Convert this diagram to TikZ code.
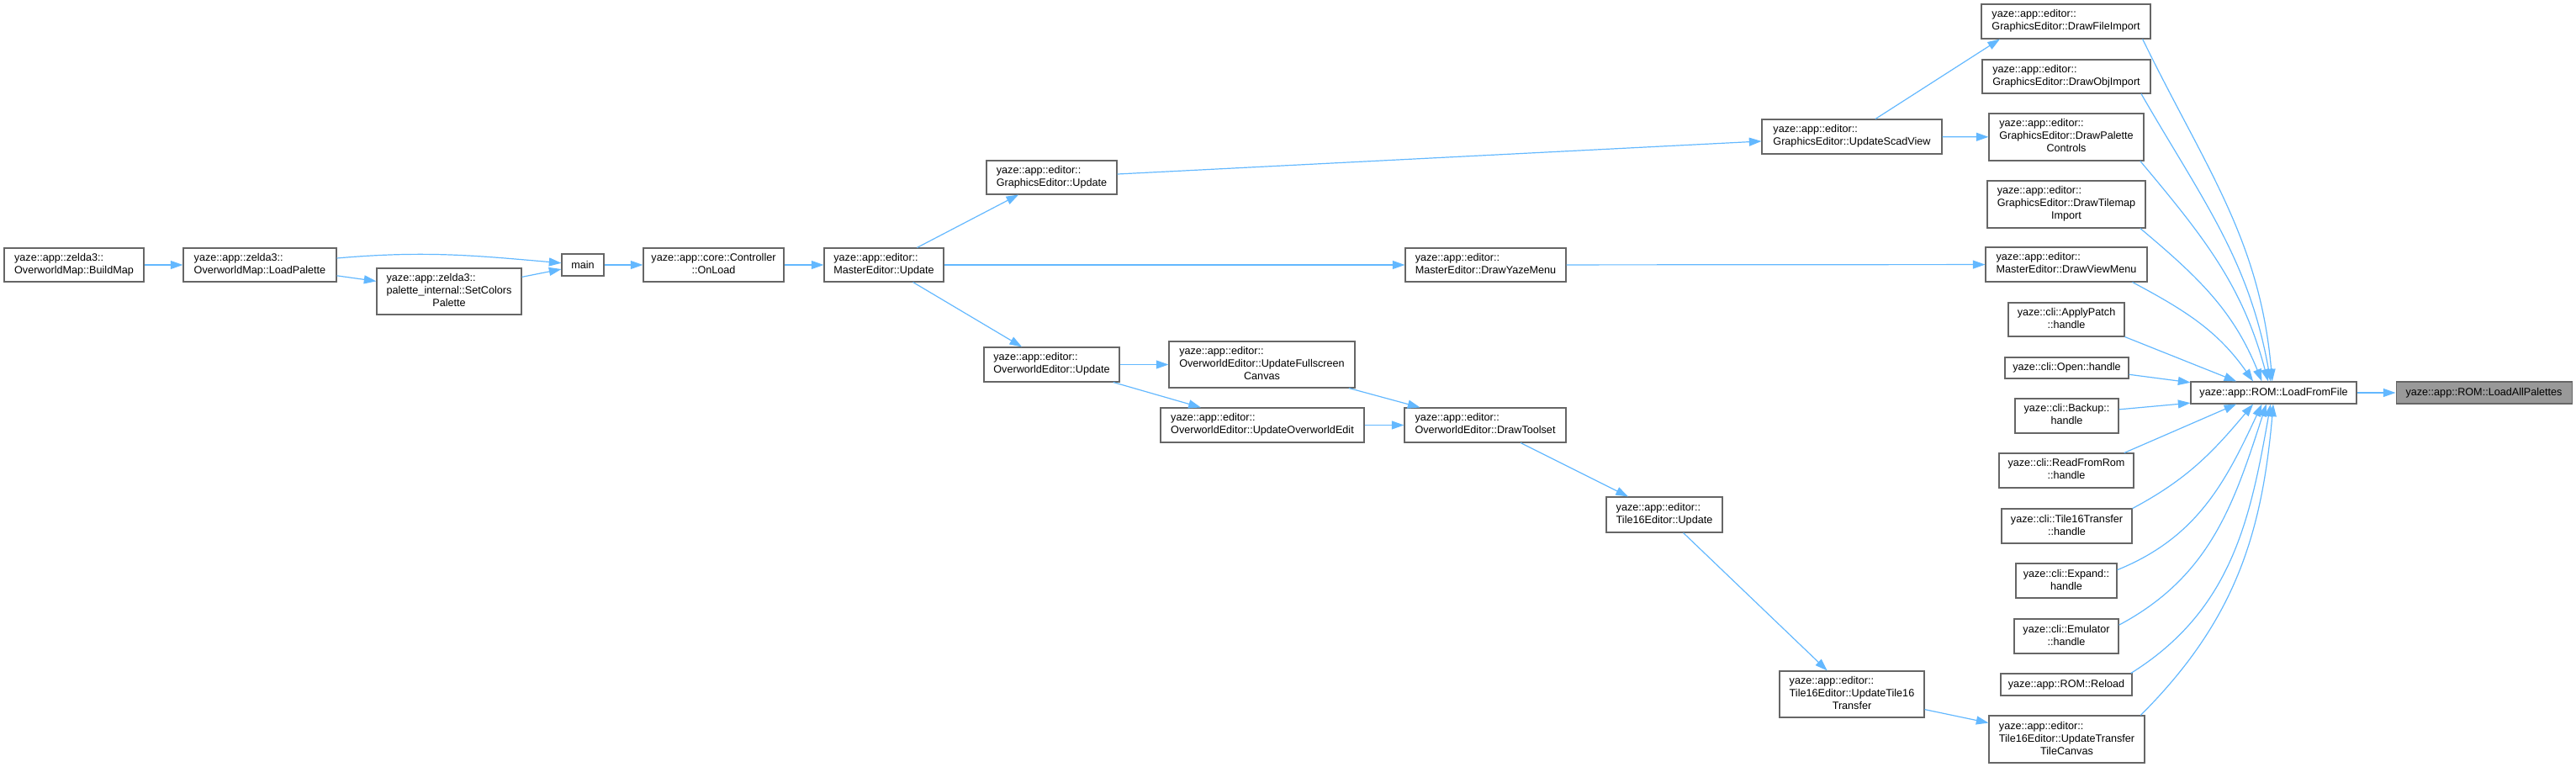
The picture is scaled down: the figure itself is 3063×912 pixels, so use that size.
\documentclass[tikz,border=0pt]{standalone}
\usepackage{fontspec}
\setmainfont{Liberation Sans}
\usetikzlibrary{arrows.meta}
\definecolor{edgeblue}{HTML}{63B8FF}
\definecolor{boxgrey}{HTML}{666666}
\definecolor{markgrey}{HTML}{999999}
% all lines left, last line centred
\newcommand{\fnlbl}[2]{\begin{tabular}{@{}l@{}}#1\\\multicolumn{1}{@{}c@{}}{#2}\end{tabular}}
\tikzset{
  fn node/.style={draw=boxgrey,fill=white,line width=0.8pt,inner sep=0pt,
    font=\fontsize{9.47}{11.25}\selectfont},
  sz/.style 2 args={minimum width=#1*0.75pt,minimum height=#2*0.75pt},
}
\begin{document}
\begin{tikzpicture}[x=0.75pt,y=0.75pt,->,>={Triangle[length=11pt,width=7.5pt]},
  every edge/.append style={draw=edgeblue,line width=0.9pt}]
  \useasboundingbox (0,0) rectangle (3063,-912);

  % Define vertices by coordinates
  \node[fn node,sz={166}{40}] (bmap) at (88,-315) {\fnlbl{yaze::app::zelda3::}{OverworldMap::BuildMap}};
  \node[fn node,sz={182}{40}] (lpal) at (309,-315) {\fnlbl{yaze::app::zelda3::}{OverworldMap::LoadPalette}};
  \node[fn node,sz={172}{55}] (setc) at (534,-346.5) {\fnlbl{yaze::app::zelda3::\\palette\_internal::SetColors}{Palette}};
  \node[fn node,sz={50}{26}] (main) at (693,-315) {main};
  \node[fn node,sz={167}{40}] (onload) at (848.5,-315) {\fnlbl{yaze::app::core::Controller}{::OnLoad}};
  \node[fn node,sz={142}{40}] (meupd) at (1051,-315) {\fnlbl{yaze::app::editor::}{MasterEditor::Update}};
  \node[fn node,sz={155}{40}] (geupd) at (1250.5,-211) {\fnlbl{yaze::app::editor::}{GraphicsEditor::Update}};
  \node[fn node,sz={191}{40}] (yzmenu) at (1766.5,-315) {\fnlbl{yaze::app::editor::}{MasterEditor::DrawYazeMenu}};
  \node[fn node,sz={161}{41}] (oeupd) at (1250.5,-433.5) {\fnlbl{yaze::app::editor::}{OverworldEditor::Update}};
  \node[fn node,sz={221}{55}] (ufull) at (1500.5,-433.5) {\fnlbl{yaze::app::editor::\\OverworldEditor::UpdateFullscreen}{Canvas}};
  \node[fn node,sz={242}{41}] (uedit) at (1501,-505.5) {\fnlbl{yaze::app::editor::}{OverworldEditor::UpdateOverworldEdit}};
  \node[fn node,sz={192}{41}] (tools) at (1766,-505.5) {\fnlbl{yaze::app::editor::}{OverworldEditor::DrawToolset}};
  \node[fn node,sz={138}{42}] (tupd) at (1979,-612) {\fnlbl{yaze::app::editor::}{Tile16Editor::Update}};
  \node[fn node,sz={214}{41}] (scad) at (2202,-162.5) {\fnlbl{yaze::app::editor::}{GraphicsEditor::UpdateScadView}};
  \node[fn node,sz={172}{55}] (utt) at (2202,-825.5) {\fnlbl{yaze::app::editor::\\Tile16Editor::UpdateTile16}{Transfer}};

  \node[fn node,sz={201}{41}] (fimp) at (2456.5,-25.5) {\fnlbl{yaze::app::editor::}{GraphicsEditor::DrawFileImport}};
  \node[fn node,sz={200}{40}] (fobj) at (2457,-91) {\fnlbl{yaze::app::editor::}{GraphicsEditor::DrawObjImport}};
  \node[fn node,sz={184}{56}] (fpal) at (2457,-163) {\fnlbl{yaze::app::editor::\\GraphicsEditor::DrawPalette}{Controls}};
  \node[fn node,sz={188}{56}] (ftil) at (2457,-243) {\fnlbl{yaze::app::editor::\\GraphicsEditor::DrawTilemap}{Import}};
  \node[fn node,sz={192}{41}] (fview) at (2457,-314.5) {\fnlbl{yaze::app::editor::}{MasterEditor::DrawViewMenu}};
  \node[fn node,sz={138}{40}] (apply) at (2457,-380) {\fnlbl{yaze::cli::ApplyPatch}{::handle}};
  \node[fn node,sz={147}{25}] (open) at (2457.5,-437.5) {yaze::cli::Open::handle};
  \node[fn node,sz={123}{41}] (backup) at (2457.5,-494.5) {\fnlbl{yaze::cli::Backup::}{handle}};
  \node[fn node,sz={160}{41}] (rom) at (2457,-559.5) {\fnlbl{yaze::cli::ReadFromRom}{::handle}};
  \node[fn node,sz={155}{41}] (tlt) at (2457.5,-625.5) {\fnlbl{yaze::cli::Tile16Transfer}{::handle}};
  \node[fn node,sz={120}{41}] (expand) at (2457,-690.5) {\fnlbl{yaze::cli::Expand::}{handle}};
  \node[fn node,sz={124}{41}] (emul) at (2457,-756.5) {\fnlbl{yaze::cli::Emulator}{::handle}};
  \node[fn node,sz={156}{26}] (reload) at (2457,-814) {yaze::app::ROM::Reload};
  \node[fn node,sz={185}{56}] (uttc) at (2457.5,-879) {\fnlbl{yaze::app::editor::\\Tile16Editor::UpdateTransfer}{TileCanvas}};

  \node[fn node,sz={197}{26}] (lff) at (2703.5,-467) {yaze::app::ROM::LoadFromFile};
  \node[fn node,fill=markgrey,sz={209}{26}] (lap) at (2953.5,-467) {yaze::app::ROM::LoadAllPalettes};

  % Draw the call arrows
  \path
    (bmap) edge (lpal)
    (lpal) edge[out=5,in=175] (main)
    (lpal) edge (setc)
    (setc) edge (main)
    (main) edge (onload)
    (onload) edge (meupd)
    (meupd) edge (geupd)
    (meupd) edge (yzmenu)
    (meupd) edge (oeupd)
    (geupd) edge (scad)
    (scad.37) edge (fimp.195)
    (scad) edge (fpal)
    (yzmenu) edge (fview)
    (oeupd) edge (ufull)
    (oeupd) edge (uedit)
    (ufull) edge (tools)
    (uedit) edge (tools)
    (tools) edge (tupd)
    (tupd) edge (utt)
    (utt) edge (uttc)
    (fimp.-13.6) edge[out=-64,in=95] (lff.97)
    (fobj.-13.2) edge[out=-60,in=100] (lff.105)
    (fpal.-18.2) edge[out=-50,in=105] (lff.116)
    (ftil.-18.6) edge[out=-40,in=112] (lff.136)
    (fview.-15.7) edge[out=-28,in=125] (lff.151)
    (apply.south east) edge (lff.163)
    (open.-6.6) edge (lff.173)
    (backup.7) edge (lff.-173.6)
    (rom.17.3) edge (lff.-163)
    (tlt.15.4) edge[out=28,in=-130] (lff.-151)
    (expand.12.7) edge[out=22,in=-115] (lff.-136)
    (emul.12.3) edge[out=28,in=-108] (lff.-123)
    (reload.10) edge[out=32,in=-100] (lff.-105)
    (uttc.18) edge[out=45,in=-95] (lff.-92)
    (lff) edge (lap);
\end{tikzpicture}
\end{document}
